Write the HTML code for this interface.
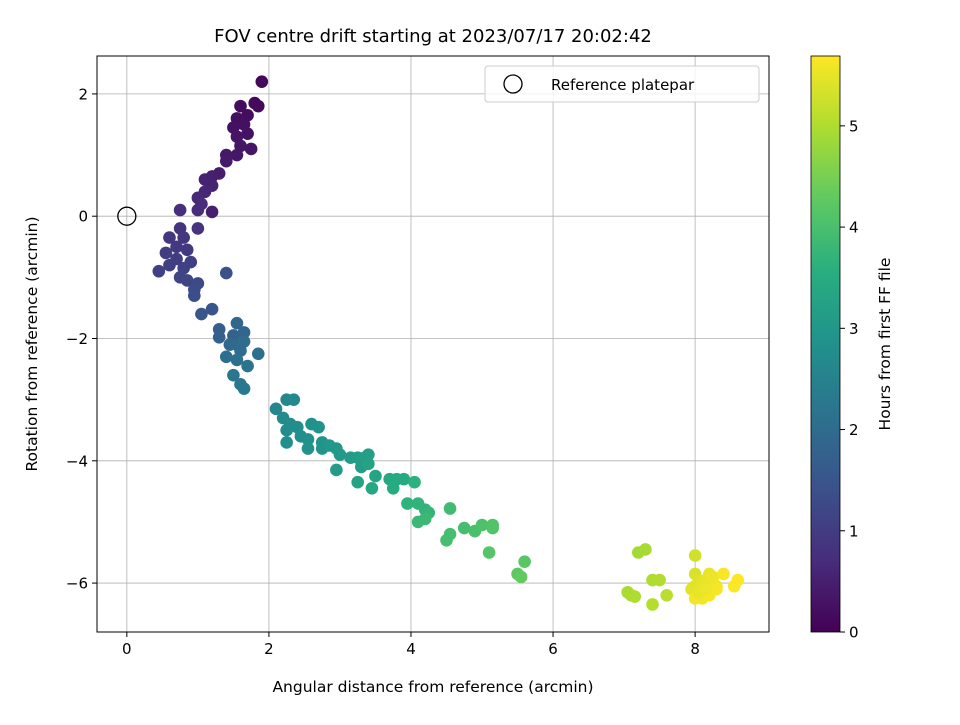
<!DOCTYPE html>
<html><head><meta charset="utf-8"><style>
body{margin:0;background:#fff;font-family:"Liberation Sans","DejaVu Sans",sans-serif}
svg text{font-family:"DejaVu Sans","Liberation Sans",sans-serif;fill:#000}
</style></head><body>
<svg id="chart" width="960" height="720" xmlns="http://www.w3.org/2000/svg">
<rect width="960" height="720" fill="#fff"/>
<defs><linearGradient id="vir" x1="0" y1="1" x2="0" y2="0">
<stop offset="0" stop-color="#440154"/><stop offset="0.125" stop-color="#472d7b"/><stop offset="0.25" stop-color="#3b528b"/><stop offset="0.375" stop-color="#2c728e"/><stop offset="0.5" stop-color="#21918c"/><stop offset="0.625" stop-color="#28ae80"/><stop offset="0.75" stop-color="#5ec962"/><stop offset="0.875" stop-color="#addc30"/><stop offset="1" stop-color="#fde725"/></linearGradient></defs>
<g id="grid"></g><g id="pts"></g>
<rect x="97" y="56" width="672" height="576" fill="none" stroke="#000" stroke-width="1"/>
<g id="axes"></g>
<text x="433" y="42" font-size="18" text-anchor="middle">FOV centre drift starting at 2023/07/17 20:02:42</text>
<text x="433" y="692" font-size="15.5" text-anchor="middle">Angular distance from reference (arcmin)</text>
<text x="0" y="0" font-size="15.5" text-anchor="middle" transform="translate(37,344) rotate(-90)">Rotation from reference (arcmin)</text>
<g>
<rect x="485" y="66" width="274" height="36" rx="3" fill="#fff" fill-opacity="0.8" stroke="#ccc"/>
<circle cx="513" cy="84" r="9" fill="none" stroke="#000" stroke-width="1.3"/>
<text x="551" y="90" font-size="15">Reference platepar</text>
</g>
<rect x="811" y="56" width="29" height="576" fill="url(#vir)"/>
<rect x="811" y="56" width="29" height="576" fill="none" stroke="#000" stroke-width="0.8"/>
<g id="cbticks"></g>
<text x="0" y="0" font-size="15.5" text-anchor="middle" transform="translate(890,344) rotate(-90)">Hours from first FF file</text>
</svg>
<script>
const xTicks=[0,2,4,6,8];
const yTicks=[2,0,-2,-4,-6];
const cbTicks=[0,1,2,3,4,5];
const xs=[1.9,1.8,1.85,1.6,1.7,1.55,1.65,1.5,1.7,1.55,1.6,1.75,1.55,1.4,1.4,1.3,1.2,1.1,1.2,1.1,1.0,1.05,1.0,1.2,0.75,1.0,0.75,0.8,0.6,0.7,0.85,0.55,0.7,0.9,0.6,0.45,0.8,0.75,0.85,1.0,0.95,0.95,1.4,1.2,1.05,
1.3,1.3,1.5,1.65,1.45,1.55,1.65,1.6,1.4,1.55,1.85,1.55,1.7,1.5,1.6,1.65,
2.1,2.25,2.35,2.2,2.3,2.25,2.4,2.45,2.25,2.55,2.6,2.7,2.55,2.75,2.75,2.85,2.95,3.0,2.95,3.15,3.25,3.3,3.35,3.4,3.4,3.25,3.5,3.45,3.7,3.8,3.9,3.75,
4.05,3.95,4.1,4.2,4.25,4.2,4.1,4.55,4.75,4.55,4.5,4.9,5.0,5.15,5.15,5.1,5.6,5.5,5.55,
7.2,7.3,7.05,7.1,7.15,7.4,7.5,7.4,7.6,
8.0,8.0,8.05,8.0,7.95,8.1,8.15,8.2,8.25,8.3,8.0,8.1,8.2,8.3,8.4,8.55,8.6,8.05,8.15];
const ys=[2.2,1.85,1.8,1.8,1.65,1.6,1.5,1.45,1.35,1.3,1.15,1.1,1.0,1.0,0.9,0.7,0.65,0.6,0.5,0.4,0.3,0.2,0.1,0.07,0.1,-0.2,-0.2,-0.35,-0.35,-0.5,-0.55,-0.6,-0.7,-0.75,-0.8,-0.9,-0.85,-1.0,-1.05,-1.1,-1.2,-1.3,-0.93,-1.52,-1.6,
-1.85,-1.98,-1.95,-1.9,-2.1,-2.1,-2.05,-2.2,-2.3,-2.35,-2.25,-1.75,-2.45,-2.6,-2.75,-2.82,
-3.15,-3.0,-3.0,-3.3,-3.4,-3.5,-3.45,-3.6,-3.7,-3.65,-3.4,-3.45,-3.8,-3.7,-3.8,-3.75,-3.8,-3.9,-4.15,-3.95,-3.95,-4.1,-3.95,-3.9,-4.05,-4.35,-4.25,-4.45,-4.3,-4.3,-4.3,-4.45,
-4.35,-4.7,-4.7,-4.8,-4.85,-4.95,-5.0,-4.78,-5.1,-5.2,-5.3,-5.15,-5.05,-5.05,-5.1,-5.5,-5.65,-5.85,-5.9,
-5.5,-5.45,-6.15,-6.2,-6.22,-5.95,-5.95,-6.35,-6.2,
-5.55,-5.85,-5.95,-6.05,-6.1,-6.0,-5.95,-5.85,-5.9,-6.05,-6.25,-6.25,-6.2,-6.1,-5.85,-6.05,-5.95,-6.15,-6.1];
const hours=[0.1,0.12,0.15,0.18,0.2,0.22,0.25,0.27,0.28,0.3,0.32,0.33,0.35,0.37,0.4,0.45,0.5,0.55,0.55,0.6,0.65,0.7,0.72,0.5,0.75,0.8,0.85,0.9,0.9,0.95,0.95,1.0,1.0,1.05,1.05,1.1,1.1,1.15,1.2,1.25,1.3,1.35,1.4,1.5,1.55,
1.7,1.75,1.8,1.85,1.9,1.95,2.0,2.0,2.05,2.05,2.1,1.9,2.15,2.2,2.25,2.3,
2.6,2.62,2.65,2.7,2.72,2.75,2.78,2.8,2.8,2.85,2.85,2.9,2.9,2.95,2.95,3.0,3.0,3.05,3.1,3.1,3.15,3.15,3.2,3.2,3.25,3.3,3.3,3.35,3.4,3.45,3.45,3.5,
3.6,3.65,3.7,3.7,3.75,3.8,3.8,3.9,3.95,3.95,3.95,4.0,4.05,4.1,4.1,4.15,4.2,4.25,4.3,
4.9,4.92,4.95,4.97,5.0,5.0,5.02,5.05,5.1,
5.3,5.35,5.4,5.42,5.45,5.47,5.5,5.52,5.55,5.57,5.6,5.6,5.62,5.63,5.65,5.66,5.68,5.5,5.55];
const X0=97,X1=769,Y0=56,Y1=632,xmin=-0.42,xmax=9.04,ymin=-6.8,ymax=2.62,hmax=5.69;
const sx=v=>X0+(v-xmin)/(xmax-xmin)*(X1-X0);
const sy=v=>Y1-(v-ymin)/(ymax-ymin)*(Y1-Y0);
const sc=v=>Y1-v/hmax*(Y1-Y0);
const NS='http://www.w3.org/2000/svg';
function mk(t,a,p){const e=document.createElementNS(NS,t);for(const k in a)e.setAttribute(k,a[k]);p.appendChild(e);return e;}
const stops=[[68,1,84],[71,45,123],[59,82,139],[44,114,142],[33,145,140],[40,174,128],[94,201,98],[173,220,48],[253,231,37]];
function vir(t){t=Math.max(0,Math.min(1,t))*8;const i=Math.min(7,Math.floor(t)),f=t-i;const a=stops[i],b=stops[i+1];return 'rgb('+a.map((c,j)=>Math.round(c+(b[j]-c)*f)).join(',')+')';}
const grid=document.getElementById('grid'),axes=document.getElementById('axes'),pts=document.getElementById('pts'),cb=document.getElementById('cbticks');
xTicks.forEach(v=>{const x=sx(v);
const g=mk('line',{x1:x,x2:x,y1:Y0,y2:Y1,stroke:'#b0b0b0','stroke-width':0.8},grid);


mk('line',{x1:x,x2:x,y1:Y1,y2:Y1+5,stroke:'#000'},axes);
const t=mk('text',{x:x,y:Y1+22,'font-size':15,'text-anchor':'middle'},axes);t.textContent=v;

});
yTicks.forEach(v=>{const y=sy(v);
const g=mk('line',{x1:X0,x2:X1,y1:y,y2:y,stroke:'#b0b0b0','stroke-width':0.8},grid);


mk('line',{x1:X0-5,x2:X0,y1:y,y2:y,stroke:'#000'},axes);
const t=mk('text',{x:X0-9,y:y+5.5,'font-size':15,'text-anchor':'end'},axes);t.textContent=v<0?'\u2212'+(-v):v;

});
cbTicks.forEach(v=>{const y=sc(v);
mk('line',{x1:840,x2:845,y1:y,y2:y,stroke:'#000'},cb);
const t=mk('text',{x:849,y:y+5.5,'font-size':15},cb);t.textContent=v;

});
xs.forEach((v,i)=>{const c=mk('circle',{cx:sx(v),cy:sy(ys[i]),r:6.3,fill:vir(hours[i]/hmax)},pts);

});
const r=mk('circle',{cx:sx(0),cy:sy(0),r:9,fill:'none',stroke:'#000','stroke-width':1.3},pts);


</script>
</body></html>
